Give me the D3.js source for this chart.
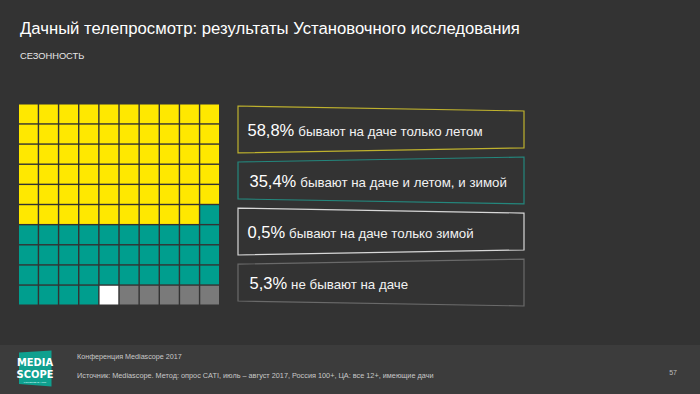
<!DOCTYPE html>
<html><head><meta charset="utf-8">
<script src="https://cdn.jsdelivr.net/npm/d3@7"></script>
<style>html,body{margin:0;padding:0;background:#333333;}svg{display:block;}</style>
</head><body>
<svg id="c" width="700" height="394"></svg>
<script>
// ---- data ----
const categories = ["бывают на даче только летом", "бывают на даче и летом, и зимой", "бывают на даче только зимой", "не бывают на даче"];
const percents = [58.8, 35.4, 0.5, 5.3];
const percentLabels = ["58,8%", "35,4%", "0,5%", "5,3%"];
const cellCounts = [59, 35, 1, 5];
const gridIdx = [0,1,2,3,4,5,6,7,8,9];

const title = "Дачный телепросмотр: результаты Установочного исследования";
const subtitle = "СЕЗОННОСТЬ";
const footer1 = "Конференция Mediascope 2017";
const footer2 = "Источник: Mediascope. Метод: опрос CATI, июль – август 2017, Россия 100+, ЦА: все 12+, имеющие дачи";
const pageNum = "57";

const fills = ["#FFE800", "#009E8E", "#FFFFFF", "#7A7A7A"];
const strokes = ["#bfb22e", "#24877d", "#d8d8d8", "#6a6a6a"];
const font = "'Liberation Sans', Arial, sans-serif";

const svg = d3.select("#c");
svg.append("rect").attr("width",700).attr("height",394).attr("fill","#333333");
svg.append("rect").attr("x",0).attr("y",345).attr("width",700).attr("height",49).attr("fill","#3c3c3c");

svg.append("text").attr("x",20).attr("y",33.5).attr("fill","#ffffff")
  .style("font-family",font).style("font-size","16.7px").text(title);
svg.append("text").attr("x",20).attr("y",58.5).attr("fill","#e6e6e6")
  .style("font-family",font).style("font-size","9.3px").text(subtitle);

// ---- waffle ----
const cells = [];
cellCounts.forEach((n,k)=>{ for(let j=0;j<n;j++) cells.push(k); });
const x = d3.scaleBand().domain(gridIdx).range([19,219]).paddingInner(0.07).paddingOuter(0.0);
const y = d3.scaleBand().domain(gridIdx).range([104.5,304.5]).paddingInner(0.07).paddingOuter(0.0);
svg.append("g").selectAll("rect").data(cells).join("rect")
  .attr("x",(d,i)=>x(i%10)).attr("y",(d,i)=>y(Math.floor(i/10)))
  .attr("width",x.bandwidth()).attr("height",y.bandwidth())
  .attr("fill",d=>fills[d]);

// ---- label boxes ----
const by = d3.scaleBand().domain(d3.range(categories.length)).range([106,306]).paddingInner(0.08);
const bx0 = 238, bx1 = 524;
const g = svg.append("g");
categories.forEach((c,i)=>{
  const top = by(i), h = by.bandwidth();
  const tilt = (i%2===0) ? 1 : -1; // alternate slanted edges
  const s = 5;
  let pts;
  if (tilt>0) pts = [[bx0,top],[bx1,top+s],[bx1,top+h-s],[bx0,top+h]];
  else pts = [[bx0,top+s],[bx1,top],[bx1,top+h],[bx0,top+h-s]];
  g.append("path").attr("d", d3.line()(pts)+"Z")
    .attr("fill","none").attr("stroke",strokes[i]).attr("stroke-width",1.2);
  const t = g.append("text").attr("x", i%2===0 ? 247.5 : 249.5).attr("y", top+h/2+6.3)
    .style("font-family",font).attr("fill","#ffffff");
  t.append("tspan").style("font-size","16.5px").text(percentLabels[i]);
  t.append("tspan").attr("dx",4).style("font-size","13.3px").attr("fill","#f2f2f2").text(c);
});

// ---- footer ----
const logo = svg.append("g");
logo.append("path").attr("d", d3.line()([[19,352.5],[51.5,350.5],[51.5,386.5],[19,384]])+"Z").attr("fill","#0fa08f");
logo.append("text").attr("x",35).attr("y",366).attr("text-anchor","middle").attr("fill","#fff")
  .style("font-family","'Liberation Sans Narrow', 'DejaVu Sans Condensed', sans-serif").style("font-size","11px").style("font-weight","bold").text("MEDIA");
logo.append("text").attr("x",35).attr("y",378).attr("text-anchor","middle").attr("fill","#fff")
  .style("font-family","'Liberation Sans Narrow', 'DejaVu Sans Condensed', sans-serif").style("font-size","11px").style("font-weight","bold").text("SCOPE");
logo.append("text").attr("x",35).attr("y",382.5).attr("text-anchor","middle").attr("fill","#dff")
  .style("font-family",font).style("font-size","2.5px").text("POWERED BY TNS");

svg.append("text").attr("x",77).attr("y",359.2).attr("fill","#c8c8c8")
  .style("font-family",font).style("font-size","7.2px").text(footer1);
svg.append("text").attr("x",77).attr("y",377.8).attr("fill","#c8c8c8")
  .style("font-family",font).style("font-size","7.3px").text(footer2);
svg.append("text").attr("x",677).attr("y",375).attr("text-anchor","end").attr("fill","#bdbdbd")
  .style("font-family",font).style("font-size","7px").text(pageNum);
</script>
</body></html>
